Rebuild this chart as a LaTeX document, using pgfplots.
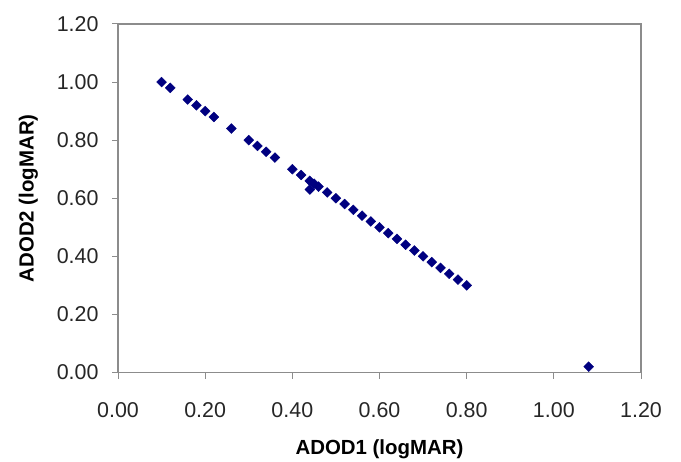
\documentclass[border=0pt]{standalone}
\usepackage{fontspec}
\setmainfont{Liberation Sans}
\usepackage{pgfplots}
\pgfplotsset{compat=1.18}
\definecolor{ptblue}{RGB}{0,0,128}
\definecolor{axgray}{RGB}{140,140,140}

\begin{document}
\begin{tikzpicture}
\path[use as bounding box] (0,0) rectangle (681bp,462bp);
\begin{axis}[
  at={(118bp,89.5bp)}, anchor=south west,
  scale only axis, width=523bp, height=348.5bp,
  xmin=0, xmax=1.2, ymin=0, ymax=1.2,
  xtick={0,0.2,...,1.2}, ytick={0,0.2,...,1.2},
  xtick pos=left, ytick pos=left,
  /pgf/number format/.cd, fixed, fixed zerofill, precision=2, assume math mode=true,
  /pgfplots/.cd,
  tick label style={font=\fontsize{21.5}{24}\selectfont, text=black!85},
  label style={font=\bfseries\fontsize{20.5}{24}\selectfont},
  xlabel={ADOD1 (logMAR)}, ylabel={ADOD2 (logMAR)},
  xticklabel style={yshift=-21bp},
  yticklabel style={xshift=-10bp},
  xlabel style={yshift=-15bp},
  ylabel style={yshift=12bp},
  axis line style={axgray, line width=1.3bp},
  tick style={axgray, line width=1bp},
  tick align=outside, major tick length=6bp,
  every axis plot/.append style={only marks},
]
\addplot[mark=square*, mark size=3.5bp, mark options={rotate=45, fill=ptblue, draw=ptblue}] coordinates {
 (0.10,1.00) (0.12,0.98) (0.16,0.94) (0.18,0.92) (0.20,0.90) (0.22,0.88)
 (0.26,0.84) (0.30,0.80) (0.32,0.78) (0.34,0.76) (0.36,0.74)
 (0.40,0.70) (0.42,0.68) (0.44,0.66) (0.44,0.63) (0.45,0.65) (0.46,0.64)
 (0.48,0.62) (0.50,0.60) (0.52,0.58) (0.54,0.56) (0.56,0.54) (0.58,0.52)
 (0.60,0.50) (0.62,0.48) (0.64,0.46) (0.66,0.44) (0.68,0.42) (0.70,0.40)
 (0.72,0.38) (0.74,0.36) (0.76,0.34) (0.78,0.32) (0.80,0.30)
 (1.08,0.02)
};
\end{axis}
\end{tikzpicture}
\end{document}
